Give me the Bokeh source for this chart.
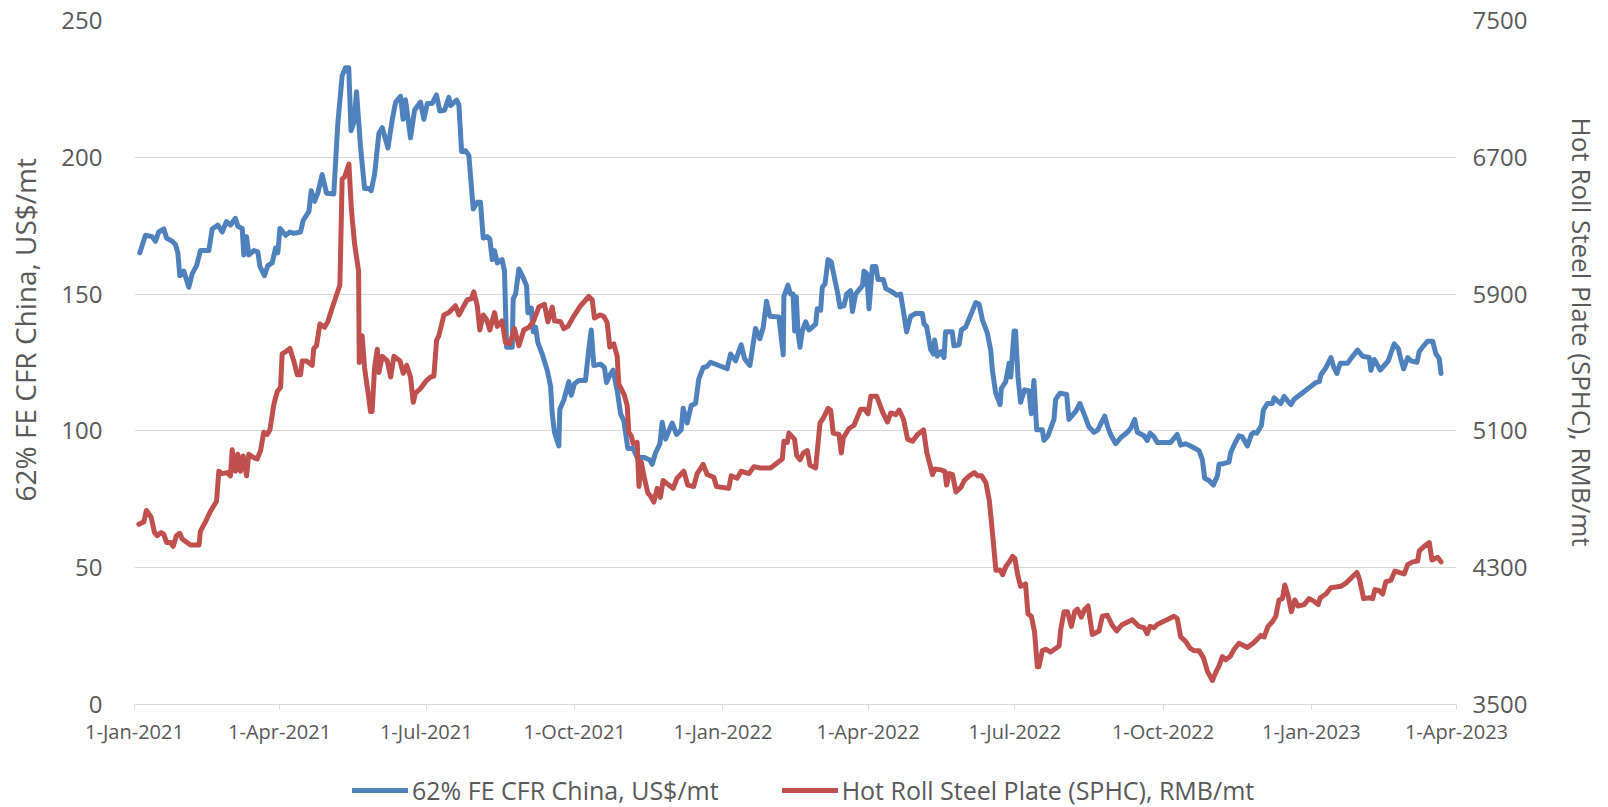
import numpy as np
import pandas as pd
from bokeh.plotting import figure
from bokeh.layouts import column
from bokeh.models import (Range1d, LinearAxis, FixedTicker, CustomJSTickFormatter,
                          Legend, LegendItem)
from bokeh.embed import file_html
from bokeh.resources import INLINE

# ---------------- data ----------------
quarter_dates = ["2021-01-01", "2021-04-01", "2021-07-01", "2021-10-01", "2022-01-01",
                 "2022-04-01", "2022-07-01", "2022-10-01", "2023-01-01", "2023-04-01"]
quarter_labels = ["1-Jan-2021", "1-Apr-2021", "1-Jul-2021", "1-Oct-2021", "1-Jan-2022",
                  "1-Apr-2022", "1-Jul-2022", "1-Oct-2022", "1-Jan-2023", "1-Apr-2023"]
left_ticks = [0, 50, 100, 150, 200, 250]
right_ticks = [3500, 4300, 5100, 5900, 6700, 7500]

# 62% FE CFR China, US$/mt  (days since 1-Jan-2021, value)
iron_days = [3.3, 6.8, 10.9, 13, 15, 18.2, 19.9, 23.4, 25.4, 26.9, 28.1, 30.6, 33.7, 35.8, 38.5,
             40.9, 46.1, 48.2, 51.7, 54.4, 57, 59.5, 62.6, 64.1, 66.8, 67.8, 69.5, 70.9, 74, 76.5,
             77.8, 80.6, 82.7, 85.4, 87.5, 88.9, 90.2, 93.7, 96.4, 98.8, 103, 104.6, 108.2, 109.6,
             111.7, 113.7, 116.4, 119.1, 123.6, 126.1, 128.8, 130.9, 132.9, 134.3, 136.2, 137.7,
             140.2, 142.7, 145.4, 146.8, 148.9, 151.6, 153.7, 157.2, 159.9, 162, 165, 166.6, 168.1,
             171.2, 173.7, 177.4, 179.5, 181.6, 184.7, 187.3, 189.4, 192.3, 195, 196, 199.8, 201.2,
             202.9, 205.3, 207.4, 210.1, 212.6, 214.6, 216.3, 218.8, 220.4, 221.9, 223.3, 225, 228,
             229.5, 230.8, 234.3, 234.9, 236.4, 238.4, 241.2, 243.2, 244, 246.1, 247.3, 248.8,
             250.2, 252.9, 256, 258.1, 259.1, 260.5, 263.2, 263.8, 266.3, 269.4, 270.9, 272.9,
             275.6, 279.7, 281.8, 283.3, 284.9, 289.1, 291.5, 292.8, 294.9, 296.9, 299.4, 301.5,
             303.5, 306, 309.3, 311.8, 316.3, 319.6, 321.1, 323.2, 325.9, 327.3, 329.4, 333.5,
             336.2, 339.1, 340.3, 342.8, 345.3, 348, 350, 352.7, 355.2, 357.3, 367.6, 369.7, 372.8,
             376.3, 378.4, 381.7, 385.2, 387.9, 390, 392, 394.1, 399.7, 402.4, 402.8, 405.3, 406.9,
             408.5, 409.5, 410.5, 411.5, 412.8, 414.2, 416.3, 418.3, 420.4, 422.5, 423.5, 425.6,
             426.6, 428.3, 430.2, 432.2, 433.9, 436, 437.6, 440.1, 441.7, 444.2, 445.3, 447.3,
             449.4, 451.5, 452.5, 454.2, 455.6, 457.7, 459.8, 461.2, 464.5, 466, 470.1, 472.8,
             475.2, 477.3, 478.9, 481.4, 484.5, 488.7, 489.7, 491.3, 493.8, 495.5, 496.3, 497.9,
             500.4, 502.1, 503.1, 507.2, 508.3, 511.4, 512.9, 515.5, 518.7, 521.8, 523.9, 525.9,
             529, 531.1, 532.1, 534.2, 536.9, 537.7, 540.4, 542.5, 543.5, 545.6, 546.5, 548, 549.6,
             552.1, 554.8, 556.3, 557.9, 559.6, 563.1, 564.1, 566.6, 570.3, 571.4, 574.1, 578.2,
             579.6, 583.8, 586.4, 588.9, 592, 595.1, 597.6, 599.3, 601.8, 603.8, 605.5, 608.6,
             611.7, 614.2, 615.8, 617.9, 620.4, 622, 626.2, 628.2, 629.9, 632.4, 634.4, 642.7,
             646.8, 648.9, 652, 655.1, 660.3, 662.4, 663.8, 666.5, 669.2, 671.7, 672.7, 675.8,
             678.9, 679.9, 682.4, 685.1, 687.2, 690.3, 692.8, 694.5, 696.1, 699, 700.2, 702.7,
             705.8, 706.9, 709, 711, 713.1, 715.2, 717.3, 719.3, 732.8, 734.9, 735.9, 739, 742.1,
             743.8, 745.8, 747.9, 752.4, 754.9, 758.6, 761.7, 765.9, 766.9, 769, 770.4, 772.7,
             775.2, 777.7, 779.3, 781.4, 783.9, 785.5, 787.2, 789.7, 791.7, 795.5, 796.9, 799.6,
             802.1, 805.2, 807.3, 809.3, 810.4]
iron_usd = [165.1, 171.5, 171, 169.3, 172.7, 173.8, 170.5, 169.3, 168.1, 165.1, 156.7, 158.4, 152.5,
            157.5, 160.4, 165.9, 165.9, 173.8, 175.2, 172.7, 176.5, 175.2, 177.7, 174.8, 174, 164.3,
            171, 164.3, 165.9, 165.4, 160.1, 156.7, 160.4, 161.4, 166.8, 165.1, 174, 171.5, 172.7,
            172.2, 172.7, 176.9, 180.2, 187.8, 183.9, 186.9, 193.7, 186.9, 186.6, 212.2, 229.8,
            232.7, 232.7, 209.7, 213, 224, 203.8, 188.6, 188.6, 187.8, 193.7, 208.8, 210.8, 203.4,
            213.9, 220.2, 222.3, 213.9, 221, 207.1, 217.2, 220.2, 213.9, 219.7, 219.7, 222.8, 216.9,
            217.2, 221.9, 218.9, 220.9, 219.2, 202.1, 202.4, 200.7, 181.1, 183.6, 183.6, 170.5, 171,
            170.1, 162.6, 165.9, 161.4, 162.6, 158.4, 130.6, 130.6, 148.3, 150, 159.2, 155.9, 153,
            143.2, 144.9, 136.2, 137.9, 132.3, 128.1, 122.2, 116.3, 106.3, 99.5, 94.5, 107.9, 111.3,
            118, 113, 117.2, 118.4, 118.4, 129.8, 136.9, 123.9, 124.4, 123.1, 117.7, 120.5, 122.2,
            114.7, 106.3, 103.7, 93.6, 93.6, 90.3, 90.3, 89.4, 87.8, 92, 95.3, 103.2, 97, 102.9,
            98.7, 100.4, 108.3, 102.9, 109.3, 110, 118.9, 123.1, 123.6, 125.1, 122.7, 128.1, 125.6,
            131.5, 126.4, 123.9, 137.4, 133.7, 137.9, 147.4, 141.9, 141.6, 127.8, 149.1, 153.3, 150,
            150, 136.5, 149, 136.5, 130.6, 136.5, 139.9, 136.9, 137.9, 139, 144.6, 144.1, 152.5,
            153.7, 162.6, 161.7, 156.7, 150.8, 145.3, 145.8, 150, 151.3, 143.6, 150, 151.6, 153,
            158.4, 157.5, 144.6, 160.1, 160.1, 155.3, 155.3, 152, 150.8, 149.6, 150, 142.4, 136.2,
            141.9, 142.9, 142.9, 139, 138.2, 129.8, 128.1, 133.2, 127.3, 129, 126.8, 136.2, 136.2,
            131.1, 131.5, 136.9, 137.9, 142.4, 146.9, 146.3, 140.7, 135.7, 129.5, 122.2, 113.8,
            109.6, 115.5, 118, 124.7, 119.7, 136.5, 136.5, 119.7, 110.5, 115, 114.7, 106.3, 118.4,
            100.4, 100.4, 96.5, 98.2, 104.2, 111.6, 113.8, 113.3, 104.2, 107.1, 110, 106.3, 101.5,
            99.5, 100.4, 102.6, 105.4, 101.2, 98.7, 95.3, 97.5, 98.7, 99.5, 100.9, 104.2, 99.5,
            98.2, 96.5, 99.2, 97.8, 95.8, 95.8, 98.7, 94.8, 95.3, 94.5, 92.8, 89.4, 82.7, 81.9,
            80.2, 83.6, 87.8, 88.1, 88.6, 92, 95.3, 98.2, 97.8, 94.5, 98.7, 99.5, 99.2, 102, 107.6,
            110, 110, 112.1, 111, 110, 112.6, 111, 109.6, 111.6, 117.7, 118, 120.5, 123.1, 126.8,
            123.4, 121, 124.7, 124.7, 126.8, 129.5, 127.3, 126.8, 122.2, 126.1, 124.7, 122.2,
            123.9, 125.6, 128.4, 131.8, 130.1, 126.1, 122.7, 126.8, 125.6, 125.1, 129, 131.1,
            132.8, 132.8, 128.1, 126.4, 121]

# Hot Roll Steel Plate (SPHC), RMB/mt  (days since 1-Jan-2021, value)
steel_days = [2.7, 5.8, 7.4, 10.3, 12.4, 14, 16.5, 18.2, 19.9, 22.3, 24, 26, 28.1, 29.6, 32.6, 34.7,
              40, 40.9, 44, 47.1, 50.9, 52.3, 54.4, 57.5, 59.5, 60.6, 62.6, 64.1, 65.7, 67.4, 69.5,
              70.9, 74, 76.1, 78.2, 80.2, 82.3, 84, 86.4, 88.5, 90.6, 91.6, 93.7, 96.4, 98.8, 100.9,
              103, 104, 106.7, 110.2, 111.2, 112.9, 115, 117.9, 119.9, 122.6, 125.7, 127.4, 128.8,
              130.3, 133, 134.5, 136.5, 139, 139.4, 141.2, 142.7, 144.7, 146.4, 147.4, 148.9, 150.6,
              151.6, 153.7, 156.8, 158.9, 160.9, 164.7, 166.7, 168.8, 171.2, 172.9, 174.3, 177.4,
              180.5, 183.6, 185.7, 187.4, 188.8, 191.9, 195, 199.1, 201.2, 204.3, 206.4, 208.9,
              210.5, 212.6, 214.2, 216.3, 218.4, 220.4, 223.3, 225, 228, 230.1, 232.8, 235.7, 238.4,
              241.5, 244.6, 247.3, 250.8, 254.3, 256.4, 259.1, 260.5, 264.3, 266.3, 268.8, 272.1,
              276.7, 281.8, 283.9, 285.3, 288.6, 291.1, 293.2, 294.8, 297.3, 299.4, 300.4, 303.9,
              305.6, 306.6, 308.1, 309.3, 311.8, 312.9, 314.3, 316.3, 318.4, 320, 322.1, 324.2,
              326.2, 327.9, 331.4, 334.1, 336.5, 340.7, 343.2, 346.9, 349, 352.7, 355.2, 359.3, 361,
              368.6, 370.1, 373.8, 376.3, 381.1, 384.2, 388.3, 394.5, 401.8, 402.8, 404.9, 405.9,
              409.4, 410.7, 412.8, 414.9, 417.3, 419, 422.5, 425.2, 427.2, 430.2, 431.8, 433.4, 437,
              438.4, 439.7, 443.2, 446.3, 450.4, 452.9, 455, 456.7, 460.4, 463.9, 467, 469.1, 472.2,
              474.3, 477, 479.5, 482.6, 485.7, 489.4, 491.5, 495, 496.5, 500.2, 502.6, 503.7, 505.3,
              507.4, 509.5, 512.6, 514.7, 517.8, 520.9, 523, 525.5, 528.1, 530.2, 532.2, 534.3, 537,
              538.5, 540.5, 542.6, 544.7, 546.1, 547.8, 549.6, 552.7, 554.2, 556.3, 558.3, 560, 561,
              563.1, 565.2, 568.3, 573.5, 574.5, 576.6, 578.7, 581.1, 583.2, 584.9, 587.3, 589.4,
              591.5, 594.1, 598.3, 600.3, 603.4, 606.5, 609.2, 612.7, 614.8, 618.9, 623, 626.2,
              628.2, 629.9, 632.4, 634.4, 644.8, 646.8, 648.9, 652, 654.8, 657.2, 660.3, 663, 665.5,
              668.6, 670.7, 672.7, 674.8, 676.9, 679.6, 682.1, 685.1, 690.3, 693.4, 696.5, 698.6,
              700.7, 703.1, 705.8, 707.9, 709.9, 712, 713.5, 715.5, 717.6, 719.7, 721.7, 725.5,
              728.6, 731.7, 734.2, 735.5, 739, 742.1, 748.3, 751.4, 758.2, 759.7, 762.4, 765.9, 768,
              769.4, 772.1, 774.2, 776.2, 779.3, 781.8, 784.5, 787.6, 789.7, 792.8, 795.9, 796.9,
              800, 803.1, 804.8, 806.6, 808.3, 810.4]
steel_rmb = [4554, 4568, 4635, 4595, 4506, 4487, 4506, 4495, 4447, 4447, 4425, 4487, 4501, 4468, 4447,
             4433, 4433, 4514, 4568, 4630, 4689, 4864, 4850, 4856, 4837, 4990, 4864, 4963, 4864, 4953,
             4837, 4963, 4944, 4936, 4985, 5092, 5079, 5106, 5254, 5329, 5356, 5550, 5563, 5582, 5509,
             5429, 5429, 5509, 5509, 5483, 5582, 5598, 5725, 5706, 5738, 5819, 5905, 5953, 6572, 6585,
             6660, 6400, 6195, 6034, 5500, 5657, 5469, 5335, 5213, 5213, 5469, 5577, 5442, 5536, 5509,
             5415, 5536, 5509, 5437, 5483, 5415, 5267, 5321, 5348, 5388, 5415, 5421, 5630, 5657, 5778,
             5792, 5832, 5778, 5832, 5867, 5873, 5913, 5832, 5690, 5778, 5752, 5690, 5792, 5711, 5744,
             5617, 5609, 5698, 5598, 5690, 5706, 5738, 5824, 5840, 5738, 5824, 5744, 5738, 5698, 5711,
             5765, 5832, 5886, 5867, 5760, 5778, 5770, 5733, 5590, 5609, 5536, 5375, 5308, 5248, 5092,
             5071, 5025, 5033, 4775, 4918, 4823, 4737, 4721, 4684, 4764, 4711, 4810, 4783, 4764, 4823,
             4864, 4783, 4775, 4850, 4904, 4845, 4829, 4775, 4764, 4837, 4823, 4864, 4850, 4891, 4883,
             4883, 4936, 5039, 5033, 5087, 5052, 4958, 4931, 4971, 4985, 4899, 4883, 5146, 5173, 5232,
             5221, 5087, 5079, 4971, 5060, 5114, 5133, 5227, 5227, 5200, 5302, 5302, 5213, 5152, 5205,
             5195, 5222, 5168, 5052, 5039, 5079, 5106, 4971, 4845, 4877, 4872, 4864, 4783, 4850, 4845,
             4743, 4770, 4810, 4837, 4856, 4837, 4837, 4797, 4694, 4501, 4285, 4285, 4259, 4307, 4334,
             4366, 4353, 4259, 4191, 4205, 4030, 4016, 3922, 3721, 3721, 3815, 3823, 3807, 3842, 3936,
             4043, 4043, 3957, 4043, 4057, 4011, 4057, 4076, 3909, 3930, 4016, 4022, 3963, 3930, 3968,
             3976, 3995, 3957, 3949, 3914, 3957, 3949, 3968, 4016, 4003, 3895, 3869, 3828, 3815, 3815,
             3774, 3694, 3640, 3688, 3726, 3780, 3761, 3780, 3823, 3858, 3834, 3855, 3882, 3904, 3895,
             3957, 3984, 4016, 4111, 4119, 4199, 4138, 4043, 4111, 4076, 4084, 4119, 4103, 4084, 4124,
             4146, 4183, 4191, 4210, 4272, 4237, 4119, 4124, 4119, 4172, 4165, 4146, 4218, 4226, 4280,
             4272, 4264, 4318, 4334, 4339, 4398, 4425, 4447, 4345, 4353, 4361, 4334]

series_names = ["62% FE CFR China, US$/mt", "Hot Roll Steel Plate (SPHC), RMB/mt"]
left_title = "62% FE CFR China, US$/mt"
right_title = "Hot Roll Steel Plate (SPHC), RMB/mt"

# ---------------- build ----------------
FONT = "Open Sans"
TXT = "#595959"
GRID = "#d9d9d9"
BLUE = "#4f81bd"
RED = "#c0504d"
NB = "\u00a0"

start = pd.Timestamp("2021-01-01")
iron_dates = start + pd.to_timedelta(np.array(iron_days), unit="D")
steel_dates = start + pd.to_timedelta(np.array(steel_days), unit="D")
q = pd.to_datetime(quarter_dates)
q_ms = [int(v) for v in (q.asi8 // 10**6)]

p = figure(width=1608, height=760, x_axis_type="datetime",
           x_range=Range1d(q[0], q[-1]), y_range=Range1d(0, 250),
           output_backend="svg", toolbar_location=None,
           min_border_left=134, min_border_right=152, min_border_top=20, min_border_bottom=56)
p.extra_y_ranges = {"rmb": Range1d(3500, 7500)}
p.outline_line_color = None
p.background_fill_color = "white"
p.border_fill_color = "white"

r1 = p.line(iron_dates, iron_usd, line_color=BLUE, line_width=5,
            line_join="round", line_cap="round")
r2 = p.line(steel_dates, steel_rmb, y_range_name="rmb", line_color=RED, line_width=5,
            line_join="round", line_cap="round")

# x axis
xa = p.xaxis[0]
xa.ticker = FixedTicker(ticks=q_ms)
xa.formatter = CustomJSTickFormatter(args=dict(qticks=q_ms, qlabels=quarter_labels), code="""
    const i = qticks.indexOf(tick);
    return i >= 0 ? qlabels[i] : "";
""")
xa.axis_line_color = GRID
xa.major_tick_line_color = GRID
xa.major_tick_out = 5
xa.major_tick_in = 0
xa.minor_tick_line_color = None
xa.major_label_text_font = FONT
xa.major_label_text_font_size = "20px"
xa.major_label_text_color = TXT
xa.major_label_standoff = 8

# left axis
ya = p.yaxis[0]
ya.ticker = FixedTicker(ticks=left_ticks)
ya.axis_line_color = None
ya.major_tick_line_color = None
ya.minor_tick_line_color = None
ya.major_tick_out = 0
ya.major_tick_in = 0
ya.major_label_standoff = 32
ya.major_label_text_font = FONT
ya.major_label_text_font_size = "24px"
ya.major_label_text_color = TXT
ya.axis_label = NB * 9 + left_title
ya.axis_label_text_font = FONT
ya.axis_label_text_font_size = "28px"
ya.axis_label_text_font_style = "normal"
ya.axis_label_text_color = TXT
ya.axis_label_standoff = 14

# right axis
ra = LinearAxis(y_range_name="rmb", ticker=FixedTicker(ticks=right_ticks))
ra.axis_line_color = None
ra.major_tick_line_color = None
ra.minor_tick_line_color = None
ra.major_tick_out = 0
ra.major_tick_in = 0
ra.major_label_standoff = 16
ra.major_label_text_font = FONT
ra.major_label_text_font_size = "24px"
ra.major_label_text_color = TXT
ra.axis_label = right_title + NB * 9
ra.axis_label_text_font = FONT
ra.axis_label_text_font_size = "26px"
ra.axis_label_text_font_style = "normal"
ra.axis_label_text_color = TXT
ra.axis_label_standoff = 34
p.add_layout(ra, "right")

p.xgrid.visible = False
p.ygrid.grid_line_color = GRID
p.ygrid.grid_line_width = 1

# legend strip underneath (its own small figure, same series styles)
lg_fig = figure(width=1608, height=47, x_range=Range1d(0, 1), y_range=Range1d(0, 1),
                output_backend="svg", toolbar_location=None,
                x_axis_location=None, y_axis_location=None,
                min_border=0, min_border_left=0, min_border_right=0,
                min_border_top=0, min_border_bottom=0)
lg_fig.outline_line_color = None
lg_fig.grid.visible = False
k1 = lg_fig.line([np.nan], [np.nan], line_color=BLUE, line_width=5, line_cap="round")
k2 = lg_fig.line([np.nan], [np.nan], line_color=RED, line_width=5, line_cap="round")
legend = Legend(items=[LegendItem(label=series_names[0], renderers=[k1]),
                       LegendItem(label=series_names[1], renderers=[k2])],
                location=(218, 0), orientation="horizontal",
                padding=0, margin=0, spacing=63, glyph_width=56, glyph_height=20,
                label_standoff=4, border_line_color=None, background_fill_alpha=0,
                label_text_font=FONT, label_text_font_size="25px", label_text_color=TXT)
lg_fig.add_layout(legend, "center")

layout = column(p, lg_fig, spacing=0)
open("out.html", "w").write(file_html(layout, INLINE))
